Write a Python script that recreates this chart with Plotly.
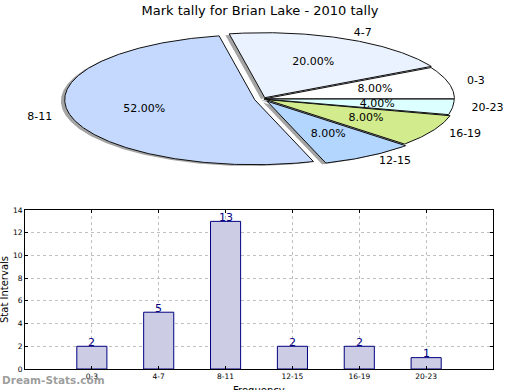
import numpy as np
import plotly.graph_objects as go

# ---- data ----
categories = ["0-3", "4-7", "8-11", "12-15", "16-19", "20-23"]
counts = [2, 5, 13, 2, 2, 1]
pie_colors = ["#FFFFFF", "#EBF2FF", "#C5D9FF", "#B3D6FF", "#D2EB8D", "#DCFFFF"]
explode = [0.008, 0.022, 0.045, 0.04, 0.018, 0.006]
title_text = "Mark tally for Brian Lake - 2010 tally"
y_ticks = [0, 2, 4, 6, 8, 10, 12, 14]

# ---- pie geometry (style) ----
CX, CY, RX, RY = 263.0, -99.0, 190.0, 65.0
FONT = "DejaVu Sans"
W, H = 520, 390

fig = go.Figure()

total = float(sum(counts))
fracs = [c / total for c in counts]
starts = np.concatenate([[0.0], np.cumsum(fracs)[:-1]]) * 360.0
ends = np.cumsum(fracs) * 360.0


def wedge(t1, t2, e, sx=0.0, sy=0.0):
    m = np.radians((t1 + t2) / 2)
    ox = CX + e * RX * np.cos(m) + sx
    oy = CY + e * RY * np.sin(m) + sy
    th = np.radians(np.linspace(t1, t2, max(int((t2 - t1) * 2), 4)))
    xs = np.concatenate([[ox], ox + RX * np.cos(th), [ox]])
    ys = np.concatenate([[oy], oy + RY * np.sin(th), [oy]])
    return xs, ys, ox, oy, m


# shadows
for t1, t2, e in zip(starts, ends, explode):
    xs, ys, *_ = wedge(t1, t2, e, sx=-0.02 * RX, sy=-0.02 * RY)
    fig.add_trace(go.Scatter(x=xs, y=ys, xaxis="x2", yaxis="y2", mode="lines",
                             fill="toself", fillcolor="rgba(90,90,90,0.55)",
                             line=dict(width=0), hoverinfo="skip", showlegend=False))

lab_x, lab_y, lab_pos, pct_x, pct_y, pct_txt = [], [], [], [], [], []
for t1, t2, e, col, f, cat in zip(starts, ends, explode, pie_colors, fracs, categories):
    xs, ys, ox, oy, m = wedge(t1, t2, e)
    fig.add_trace(go.Scatter(x=xs, y=ys, xaxis="x2", yaxis="y2", mode="lines",
                             fill="toself", fillcolor=col,
                             line=dict(width=1, color="#111111"),
                             hoverinfo="skip", showlegend=False))
    lab_x.append(ox + 1.1 * RX * np.cos(m))
    lab_y.append(oy + 1.1 * RY * np.sin(m))
    lab_pos.append("middle right" if np.cos(m) > 0 else "middle left")
    pct_x.append(ox + 0.6 * RX * np.cos(m))
    pct_y.append(oy + 0.6 * RY * np.sin(m))
    pct_txt.append("%.2f%%" % (f * 100))

fig.add_trace(go.Scatter(x=lab_x, y=lab_y, xaxis="x2", yaxis="y2", mode="text",
                         text=categories, textposition=lab_pos,
                         textfont=dict(family=FONT, size=11, color="#000000"),
                         hoverinfo="skip", showlegend=False))
fig.add_trace(go.Scatter(x=pct_x, y=pct_y, xaxis="x2", yaxis="y2", mode="text",
                         text=pct_txt, textposition="middle center",
                         textfont=dict(family=FONT, size=11, color="#000000"),
                         hoverinfo="skip", showlegend=False))

# ---- bar chart ----
fig.add_trace(go.Bar(x=categories, y=counts, width=0.45,
                     marker=dict(color="#CCCCE5", line=dict(color="#000080", width=1)),
                     hoverinfo="skip", showlegend=False))

value_labels = [dict(x=c, y=v, xref="x", yref="y", text=str(v), showarrow=False,
                     xanchor="center", yanchor="middle", yshift=4,
                     font=dict(family=FONT, size=11, color="#000080"))
                for c, v in zip(categories, counts)]

axis_common = dict(showline=True, linecolor="#000000", linewidth=1, mirror="ticks",
                   ticks="inside", ticklen=3, tickcolor="#000000",
                   showgrid=True, gridcolor="#C0C0C0", griddash="dot", gridwidth=1,
                   zeroline=False, automargin=False,
                   tickfont=dict(family=FONT, size=7.5, color="#000000"))

fig.update_layout(
    width=W, height=H,
    margin=dict(l=0, r=0, t=0, b=0, autoexpand=False),
    paper_bgcolor="#FFFFFF", plot_bgcolor="#FFFFFF",
    font=dict(family=FONT),
    title=dict(text=title_text, x=0.5, xanchor="center", y=1 - 10 / H, yanchor="middle",
               font=dict(family=FONT, size=13, color="#000000")),
    xaxis=dict(domain=[25 / W, 493 / W], anchor="y", type="category",
               range=[-1, 6], ticklabelstandoff=0, **axis_common),
    yaxis=dict(domain=[1 - 369 / H, 1 - 210 / H], anchor="x", range=[0, 14],
               tickvals=y_ticks, **axis_common),
    xaxis2=dict(domain=[0, 1], anchor="y2", range=[0, W], visible=False, fixedrange=True),
    yaxis2=dict(domain=[1 - 180 / H, 1], anchor="x2", range=[-180, 0], visible=False,
                fixedrange=True),
    annotations=value_labels + [
        dict(text="Stat Intervals", xref="paper", yref="paper",
             x=4 / W, y=1 - 290 / H, xanchor="center", yanchor="middle", textangle=-90,
             showarrow=False, font=dict(family=FONT, size=10, color="#000000")),
        dict(text="Frequency", xref="paper", yref="paper",
             x=259 / W, y=1 - 383 / H, xanchor="center", yanchor="top",
             showarrow=False, font=dict(family=FONT, size=10, color="#000000")),
        dict(text="<b>Dream-Stats.com</b>", xref="paper", yref="paper",
             x=0, y=1 - 380 / H, xanchor="left", yanchor="middle",
             showarrow=False,
             font=dict(family=FONT, size=10.5, color="rgba(140,140,140,0.85)")),
    ],
)

fig.write_html("out.html", config={"displayModeBar": False, "staticPlot": True},
               post_script="document.body.style.margin='0';")
